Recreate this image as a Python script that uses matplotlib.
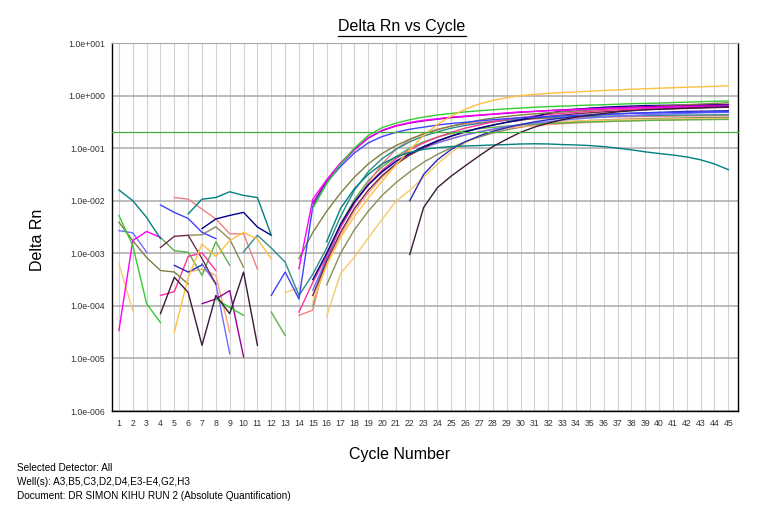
import numpy as np
import matplotlib
matplotlib.use('Agg')
import matplotlib.pyplot as plt
from matplotlib.lines import Line2D

plt.rcParams['font.family'] = ['Liberation Sans', 'DejaVu Sans']

cycles = list(range(1, 46))
N = None

# Delta Rn per well / detector (None = not plotted, value <= 0)
teal_a = [1.6e-2, 1.0e-2, 4.8e-3, 1.9e-3, N,
          5.6e-3, 1.07e-2, 1.15e-2, 1.48e-2, 1.26e-2,
          1.15e-2, 2.2e-3, N, N, N,
          1.66e-3, 7.1e-3, 1.7e-2, 3.16e-2, 5.0e-2,
          6.8e-2, 8.3e-2, 9.5e-2, 0.102, 0.107,
          0.110, 0.112, 0.115, 0.117, 0.120,
          0.121, 0.120, 0.117, 0.115, 0.112,
          0.107, 0.100, 0.093, 0.085, 0.079,
          0.074, 0.068, 0.060, 0.050, 0.039]
teal_b = [N, N, N, N, N,
          N, N, N, N, 1.07e-3,
          2.2e-3, 1.26e-3, 6.8e-4, 1.58e-4, 4.0e-4,
          1.26e-3, 5.0e-3, 1.58e-2, 3.55e-2, 6.3e-2,
          9.5e-2, 0.132, 0.17, 0.204, 0.24,
          0.27, 0.295, 0.316, 0.34, 0.355,
          0.372, 0.38, 0.39, 0.398, 0.403,
          0.407, 0.41, 0.414, 0.417, 0.42,
          0.423, 0.426, 0.428, 0.43, 0.432]
blue_a = [N, N, N, 8.3e-3, 6.0e-3,
          4.6e-3, 2.5e-3, 1.9e-3, N, N,
          N, 1.58e-4, 4.4e-4, 1.35e-4, 7.9e-3,
          2.2e-2, 4.5e-2, 8.1e-2, 0.126, 0.166,
          0.20, 0.229, 0.251, 0.275, 0.295,
          0.31, 0.33, 0.347, 0.363, 0.38,
          0.39, 0.40, 0.41, 0.42, 0.43,
          0.44, 0.45, 0.46, 0.465, 0.47,
          0.475, 0.48, 0.485, 0.49, 0.495]
blue_b = [2.7e-3, 2.45e-3, 1.05e-3, N, N,
          N, 6.3e-4, 2.6e-4, 1.23e-5, N,
          N, N, N, N, 2.0e-4,
          7.9e-4, 3.16e-3, 8.9e-3, 2.0e-2, 3.55e-2,
          5.6e-2, 7.9e-2, 0.10, 0.126, 0.15,
          0.178, 0.204, 0.23, 0.255, 0.28,
          0.30, 0.32, 0.34, 0.36, 0.375,
          0.39, 0.405, 0.42, 0.43, 0.44,
          0.45, 0.46, 0.47, 0.475, 0.48]
navy = [N, N, N, N, N,
        N, 2.95e-3, 4.5e-3, 5.25e-3, 6.0e-3,
        3.16e-3, 2.2e-3, N, N, 3.16e-4,
        1.0e-3, 3.55e-3, 9.5e-3, 2.0e-2, 3.55e-2,
        5.6e-2, 7.9e-2, 0.107, 0.138, 0.17,
        0.204, 0.24, 0.275, 0.31, 0.347,
        0.40, 0.457, 0.513, 0.55, 0.575,
        0.60, 0.617, 0.63, 0.645, 0.65,
        0.655, 0.66, 0.665, 0.67, 0.675]
navy_late = [N, N, N, N, 5.9e-4,
             4.4e-4, 6.0e-4, N, N, N,
             N, N, N, N, N,
             N, N, N, N, N,
             N, 1.0e-2, 3.16e-2, 6.0e-2, 9.5e-2,
             0.132, 0.17, 0.209, 0.245, 0.282,
             0.316, 0.347, 0.372, 0.40, 0.417,
             0.437, 0.45, 0.46, 0.47, 0.48,
             0.49, 0.50, 0.505, 0.51, 0.515]
magenta = [3.4e-5, 1.74e-3, 2.6e-3, 2.0e-3, N,
           N, N, N, N, N,
           N, N, N, 5.1e-4, 1.07e-2,
           2.5e-2, 5.25e-2, 9.5e-2, 0.158, 0.219,
           0.269, 0.309, 0.339, 0.363, 0.389,
           0.407, 0.427, 0.447, 0.468, 0.49,
           0.50, 0.513, 0.525, 0.537, 0.55,
           0.562, 0.575, 0.58, 0.589, 0.595,
           0.603, 0.61, 0.617, 0.624, 0.63]
purple = [N, N, N, N, N,
          N, 1.1e-4, 1.35e-4, 1.95e-4, 1.07e-5,
          N, N, N, N, 8.9e-3,
          2.4e-2, 5.0e-2, 9.3e-2, 0.155, 0.214,
          0.263, 0.30, 0.33, 0.355, 0.38,
          0.40, 0.42, 0.44, 0.46, 0.48,
          0.50, 0.52, 0.535, 0.55, 0.565,
          0.58, 0.59, 0.60, 0.61, 0.62,
          0.63, 0.64, 0.65, 0.655, 0.66]
green = [5.25e-3, 1.4e-3, 1.1e-4, 4.8e-5, N,
         N, N, 1.35e-4, 9.3e-5, 6.6e-5,
         N, N, N, N, 7.2e-3,
         2.1e-2, 5.0e-2, 0.10, 0.174, 0.245,
         0.30, 0.347, 0.39, 0.427, 0.457,
         0.49, 0.513, 0.537, 0.56, 0.58,
         0.60, 0.615, 0.63, 0.645, 0.66,
         0.67, 0.685, 0.70, 0.71, 0.72,
         0.735, 0.75, 0.765, 0.78, 0.79]
green_b = [N, N, N, 2.0e-3, 1.12e-3,
           1.05e-3, 3.8e-4, 1.66e-3, 5.9e-4, N,
           N, 7.6e-5, 2.75e-5, N, 1.0e-4,
           7.9e-4, 3.55e-3, 1.05e-2, 2.4e-2, 4.4e-2,
           6.9e-2, 0.10, 0.132, 0.162, 0.19,
           0.214, 0.235, 0.25, 0.263, 0.275,
           0.285, 0.295, 0.30, 0.308, 0.316,
           0.32, 0.325, 0.33, 0.335, 0.34,
           0.342, 0.345, 0.347, 0.35, 0.352]
olive = [3.9e-3, 1.74e-3, 8.3e-4, 4.7e-4, 4.4e-4,
         2.6e-4, N, N, N, N,
         N, N, N, 7.9e-4, 2.5e-3,
         6.3e-3, 1.4e-2, 2.8e-2, 5.0e-2, 7.9e-2,
         0.112, 0.148, 0.186, 0.224, 0.263,
         0.30, 0.339, 0.372, 0.40, 0.427,
         0.45, 0.47, 0.49, 0.51, 0.53,
         0.55, 0.57, 0.59, 0.61, 0.63,
         0.65, 0.67, 0.69, 0.71, 0.73]
olive_b = [N, N, N, N, N,
           2.2e-3, 2.25e-3, 3.2e-3, 1.86e-3, 5.4e-4,
           N, N, N, N, N,
           2.5e-4, 1.0e-3, 2.8e-3, 6.3e-3, 1.26e-2,
           2.2e-2, 3.55e-2, 5.4e-2, 7.6e-2, 0.102,
           0.132, 0.162, 0.195, 0.224, 0.25,
           0.275, 0.295, 0.31, 0.325, 0.335,
           0.345, 0.352, 0.358, 0.363, 0.368,
           0.372, 0.376, 0.38, 0.383, 0.386]
yellow_top = [N, N, N, N, 3.16e-5,
              3.5e-4, 1.5e-3, 8.7e-4, 1.74e-3, 2.5e-3,
              1.86e-3, 7.9e-4, N, N, 1.2e-4,
              5.9e-4, 2.0e-3, 5.0e-3, 1.12e-2, 2.35e-2,
              4.8e-2, 9.3e-2, 0.174, 0.282, 0.407,
              0.55, 0.69, 0.81, 0.91, 1.0,
              1.05, 1.1, 1.14, 1.17, 1.21,
              1.25, 1.28, 1.32, 1.35, 1.38,
              1.41, 1.44, 1.47, 1.5, 1.54]
yellow_late = [6.3e-4, 8.1e-5, N, N, N,
               N, N, N, N, N,
               N, N, 1.8e-4, 2.2e-4, N,
               6.3e-5, 4.1e-4, 8.5e-4, 1.95e-3, 4.4e-3,
               9.8e-3, 1.58e-2, 2.8e-2, 5.0e-2, 8.3e-2,
               0.126, 0.17, 0.209, 0.245, 0.275,
               0.295, 0.31, 0.32, 0.328, 0.335,
               0.34, 0.345, 0.35, 0.353, 0.356,
               0.358, 0.36, 0.362, 0.364, 0.366]
salmon = [N, N, N, N, 1.15e-2,
          1.07e-2, 6.9e-3, 4.5e-3, 2.35e-3, 2.35e-3,
          5.0e-4, N, N, 6.6e-5, 8.3e-5,
          1.0e-3, 3.16e-3, 8.9e-3, 2.2e-2, 5.0e-2,
          9.5e-2, 0.145, 0.19, 0.229, 0.263,
          0.288, 0.309, 0.325, 0.34, 0.35,
          0.36, 0.368, 0.375, 0.38, 0.385,
          0.39, 0.393, 0.396, 0.40, 0.403,
          0.406, 0.409, 0.412, 0.415, 0.418]
pink = [N, N, N, 1.58e-4, 1.86e-4,
        8.7e-4, 1.02e-3, 4.7e-4, N, N,
        N, N, N, 7.6e-5, 2.8e-4,
        8.9e-4, 3.16e-3, 8.9e-3, 2.0e-2, 3.8e-2,
        6.3e-2, 9.3e-2, 0.126, 0.162, 0.20,
        0.24, 0.275, 0.316, 0.35, 0.38,
        0.41, 0.435, 0.46, 0.48, 0.50,
        0.52, 0.535, 0.55, 0.565, 0.578,
        0.59, 0.60, 0.61, 0.62, 0.63]
dark = [N, N, N, 7.1e-5, 3.5e-4,
        1.8e-4, 1.78e-5, 1.58e-4, 7.1e-5, 4.4e-4,
        1.78e-5, N, N, N, N,
        N, N, N, N, N,
        N, 9.5e-4, 7.4e-3, 1.78e-2, 2.95e-2,
        4.6e-2, 7.1e-2, 0.107, 0.148, 0.20,
        0.251, 0.30, 0.347, 0.39, 0.427,
        0.457, 0.49, 0.513, 0.537, 0.55,
        0.565, 0.578, 0.59, 0.60, 0.61]
dark_b = [N, N, N, 1.29e-3, 2.1e-3,
          2.2e-3, 7.9e-4, 2.6e-4, N, N,
          N, N, N, N, 1.58e-4,
          7.1e-4, 2.5e-3, 7.1e-3, 1.58e-2, 3.0e-2,
          5.0e-2, 7.4e-2, 0.102, 0.135, 0.17,
          0.204, 0.24, 0.275, 0.31, 0.34,
          0.37, 0.40, 0.425, 0.45, 0.47,
          0.49, 0.51, 0.525, 0.54, 0.55,
          0.56, 0.57, 0.58, 0.59, 0.60]
peach = [N, N, N, N, N,
         4.4e-4, 5.0e-4, 3.8e-4, 3.16e-5, N,
         N, N, N, N, 1.58e-4,
         6.3e-4, 2.2e-3, 6.3e-3, 1.4e-2, 2.8e-2,
         4.8e-2, 7.4e-2, 0.10, 0.126, 0.155,
         0.18, 0.204, 0.224, 0.24, 0.255,
         0.268, 0.28, 0.29, 0.30, 0.31,
         0.318, 0.325, 0.332, 0.338, 0.343,
         0.348, 0.352, 0.356, 0.36, 0.363]

series = [
    (olive_b, '#8c8c5a'), (peach, '#ffa07a'), (yellow_late, '#f7c96a'),
    (green_b, '#5db04a'), (salmon, '#f08080'), (teal_b, '#2e8b8b'),
    (blue_b, '#6f6fff'), (dark_b, '#6b2d4f'), (pink, '#ff3399'),
    (navy, '#00008b'), (navy_late, '#2a2ab8'), (olive, '#7f7f3f'),
    (blue_a, '#4040ff'), (purple, '#990099'), (magenta, '#ff00ff'),
    (green, '#33cc33'), (yellow_top, '#ffbf40'), (teal_a, '#008080'),
    (dark, '#3a1a3a'),
]

threshold = 0.2
ytick_vals = [1e-6, 1e-5, 1e-4, 1e-3, 1e-2, 1e-1, 1e0, 1e1]
ytick_labels = ['1.0e-006', '1.0e-005', '1.0e-004', '1.0e-003',
                '1.0e-002', '1.0e-001', '1.0e+000', '1.0e+001']

fig = plt.figure(figsize=(7.64, 5.18), dpi=100)
ax = fig.add_axes([112 / 764, 1 - 411 / 518, 626 / 764, 368 / 518])
ax.set_yscale('log')
ax.set_xlim(0.5, 45.7)
ax.set_ylim(1e-6, 1e1)

for c in cycles:
    ax.axvline(c, color='#d2d2d2', lw=0.8, zorder=0)
for v in ytick_vals:
    ax.axhline(v, color='#a9a9a9', lw=1.1, zorder=0.5)

for vals, col in series:
    ax.plot(cycles, np.array(vals, dtype=float), color=col, lw=1.0, zorder=2)

ax.axhline(threshold, color='#3fae3f', lw=0.9, zorder=3, clip_on=False)

ax.set_yticks(ytick_vals)
ax.set_yticklabels(ytick_labels)
ax.minorticks_off()
ax.set_xticks(cycles)
ax.set_xticklabels([str(c) for c in cycles])
ax.tick_params(axis='both', length=0, labelsize=6.3, colors='#333333')
ax.tick_params(axis='x', pad=6)
ax.tick_params(axis='y', pad=5)
for s in ['left', 'bottom', 'right']:
    ax.spines[s].set_color('black')
    ax.spines[s].set_linewidth(1.0)
ax.spines['top'].set_color('#a9a9a9')

fig.text(38 / 764, 1 - 240 / 518, 'Delta Rn', fontsize=11.5, rotation=90,
         ha='center', va='center')
fig.text(400 / 764, 1 - 455 / 518, 'Cycle Number', fontsize=11.5,
         ha='center', va='center')

title = fig.text(402 / 764, 1 - 27 / 518, 'Delta Rn vs Cycle', fontsize=11.5,
                 ha='center', va='center')
fig.canvas.draw()
bb = title.get_window_extent()
W, H = fig.bbox.width, fig.bbox.height
uy = (bb.y0 - 1) / H
fig.add_artist(Line2D([bb.x0 / W, bb.x1 / W], [uy, uy], color='black', lw=0.9,
                      transform=fig.transFigure))

footer = ['Selected Detector: All',
          'Well(s): A3,B5,C3,D2,D4,E3-E4,G2,H3',
          'Document: DR SIMON KIHU RUN 2 (Absolute Quantification)']
for i, line in enumerate(footer):
    fig.text(17 / 764, 1 - (468 + 14 * i) / 518, line, fontsize=7.2,
             ha='left', va='center')

fig.savefig('out.png', dpi=100)
